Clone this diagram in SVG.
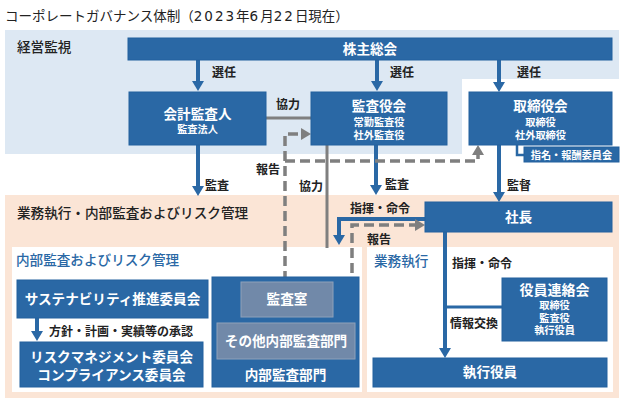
<svg xmlns="http://www.w3.org/2000/svg" width="624" height="402" viewBox="0 0 624 402">
<defs>
<style>
text{font-family:"Noto Sans CJK JP","Noto Sans",sans-serif;}
.title{font-size:13.5px;fill:#222;}
.dg{font-family:"DejaVu Sans",sans-serif;letter-spacing:2px;}
.sec{font-size:13.6px;fill:#222;font-weight:500;}
.secb{font-size:13.6px;fill:#2a68a5;font-weight:500;}
.lbl{font-size:12px;fill:#222;font-weight:bold;}
.box{fill:#2a68a5;stroke:#22609e;stroke-width:1;}
.gbox{fill:#7189a9;stroke:#8fa1ba;stroke-width:1;}
.bt{font-size:13.6px;fill:#fff;font-weight:bold;text-anchor:middle;}
.st{font-size:10.2px;fill:#fff;font-weight:bold;text-anchor:middle;}
.bl{fill:none;stroke:#2a68a5;stroke-width:4;}
.gl{fill:none;stroke:#7f7f7f;stroke-width:3;}
.gd{fill:none;stroke:#7f7f7f;stroke-width:3.5;stroke-dasharray:10 5;}
</style>
<marker id="ab" markerUnits="userSpaceOnUse" markerWidth="10" markerHeight="12" viewBox="0 0 10 12" refX="0" refY="6" orient="auto">
<path d="M0,0 L10,6 L0,12 z" fill="#2a68a5"/>
</marker>
<marker id="ag" markerUnits="userSpaceOnUse" markerWidth="10" markerHeight="12" viewBox="0 0 10 12" refX="0" refY="6" orient="auto">
<path d="M0,0 L10,6 L0,12 z" fill="#7f7f7f"/>
</marker>
</defs>
<rect width="624" height="402" fill="#fff"/>
<g id="backgrounds">
<path d="M5,30 H619 V79 H462 V154 H5 Z" fill="#dde8f3"/>
<rect x="5" y="195" width="614" height="203" fill="#fbe5d6"/>
<rect x="12" y="247" width="350" height="145" fill="#fff"/>
<rect x="367" y="247" width="246" height="145" fill="#fff"/>
</g>
<text class="title" x="5" y="21">コーポレートガバナンス体制（<tspan class="dg">2023</tspan>年<tspan class="dg">6</tspan>月<tspan class="dg">22</tspan>日現在）</text>
<text class="sec" x="17" y="52">経営監視</text>
<text class="sec" x="17" y="218">業務執行・内部監査およびリスク管理</text>
<text class="secb" x="16" y="265">内部監査およびリスク管理</text>
<text class="secb" x="374" y="266">業務執行</text>

<g id="connectors">
<path class="bl" d="M198,60 V81" marker-end="url(#ab)"/>
<path class="bl" d="M377,60 V81" marker-end="url(#ab)"/>
<path class="bl" d="M499,60 V82" marker-end="url(#ab)"/>
<path class="bl" d="M198,145 V186" marker-end="url(#ab)"/>
<path class="bl" d="M376,145 V185" marker-end="url(#ab)"/>
<path class="bl" d="M499,145 V192" marker-end="url(#ab)"/>
<path class="bl" d="M425,219 H339 V235" marker-end="url(#ab)"/>
<path class="bl" d="M445,232 V348" marker-end="url(#ab)"/>
<path class="bl" d="M37,318 V331" marker-end="url(#ab)"/>
<path class="bl" style="stroke-width:3" d="M445,307 H502"/>
<path class="bl" style="stroke-width:2.5" d="M517,145 V155 H524"/>
<path class="gl" d="M266,118 H311"/>
<path class="gl" d="M327,145 V248"/>
<path class="gd" d="M285,281 V134 H301" marker-end="url(#ag)"/>
<path class="gd" d="M285,161 H478 V155" marker-end="url(#ag)"/>
<path class="gd" d="M333,299 H352 V225 H415" marker-end="url(#ag)"/>
<text class="lbl" x="212" y="77">選任</text>
<text class="lbl" x="390" y="77">選任</text>
<text class="lbl" x="517" y="77">選任</text>
<text class="lbl" x="276" y="109">協力</text>
<text class="lbl" x="256" y="174">報告</text>
<text class="lbl" x="299" y="191">協力</text>
<text class="lbl" x="205" y="190">監査</text>
<text class="lbl" x="385" y="189">監査</text>
<text class="lbl" x="507" y="190">監督</text>
<text class="lbl" x="350" y="213">指揮・命令</text>
<text class="lbl" x="367" y="244">報告</text>
<text class="lbl" x="452" y="268">指揮・命令</text>
<text class="lbl" x="450" y="328">情報交換</text>
<text class="lbl" x="49" y="336">方針・計画・実績等の承認</text>
</g>

<g id="shareholders">
<rect class="box" x="128" y="38" width="484" height="22"/>
<text class="bt" x="370" y="54">株主総会</text>
</g>
<g id="accounting-auditor">
<rect class="box" x="129" y="92" width="137" height="53"/>
<text class="bt" x="197.5" y="118.5">会計監査人</text>
<text class="st" x="197.5" y="133">監査法人</text>
</g>
<g id="audit-board">
<rect class="box" x="311" y="92" width="136" height="53"/>
<text class="bt" x="379" y="111">監査役会</text>
<text class="st" x="379" y="126">常勤監査役</text>
<text class="st" x="379" y="139">社外監査役</text>
</g>
<g id="board">
<rect class="box" x="469" y="92" width="143" height="53"/>
<text class="bt" x="540.5" y="111">取締役会</text>
<text class="st" x="540.5" y="126">取締役</text>
<text class="st" x="540.5" y="139">社外取締役</text>
</g>
<g id="nomination">
<rect class="box" x="524" y="147" width="95" height="15"/>
<text class="st" x="571.5" y="158.5">指名・報酬委員会</text>
</g>
<g id="president">
<rect class="box" x="425" y="202" width="187" height="30"/>
<text class="bt" x="518.5" y="222">社長</text>
</g>
<g id="sustainability">
<rect class="box" x="17" y="280" width="191" height="38"/>
<text class="bt" x="112.5" y="304">サステナビリティ推進委員会</text>
</g>
<g id="risk">
<rect class="box" x="20" y="342" width="183" height="45"/>
<text class="bt" x="111.5" y="362">リスクマネジメント委員会</text>
<text class="bt" x="111.5" y="380">コンプライアンス委員会</text>
</g>
<g id="internal-audit">
<rect class="box" x="212" y="277" width="147" height="110"/>
<text class="bt" x="285.5" y="380">内部監査部門</text>
</g>
<g id="audit-office">
<rect class="gbox" x="241" y="282" width="92" height="35"/>
<text class="bt" x="287" y="304">監査室</text>
</g>
<g id="other-audit">
<rect class="gbox" x="217" y="323" width="138" height="36"/>
<text class="bt" x="286" y="346">その他内部監査部門</text>
</g>
<g id="officers-council">
<rect class="box" x="502" y="278" width="105" height="63"/>
<text class="bt" x="554.5" y="295" style="font-size:14px">役員連絡会</text>
<text class="st" x="554.5" y="309">取締役</text>
<text class="st" x="554.5" y="321.5">監査役</text>
<text class="st" x="554.5" y="334">執行役員</text>
</g>
<g id="executive-officers">
<rect class="box" x="373" y="358" width="234" height="29"/>
<text class="bt" x="490" y="377">執行役員</text>
</g>
</svg>
